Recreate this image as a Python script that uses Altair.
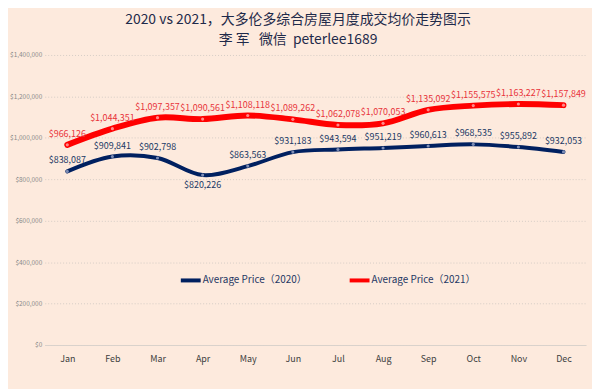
import altair as alt
import pandas as pd

months = ["Jan", "Feb", "Mar", "Apr", "May", "Jun", "Jul", "Aug", "Sep", "Oct", "Nov", "Dec"]
price_2020 = [838087, 909841, 902798, 820226, 863563, 931183, 943594, 951219, 960613, 968535, 955892, 932053]
price_2021 = [966126, 1044351, 1097357, 1090561, 1108118, 1089262, 1062078, 1070053, 1135092, 1155575, 1163227, 1157849]
series_names = ["Average Price（2020）", "Average Price（2021）"]
y_ticks = [0, 200000, 400000, 600000, 800000, 1000000, 1200000, 1400000]
title_lines = ["2020 vs 2021，大多伦多综合房屋月度成交均价走势图示", "李\u00a0军\u00a0\u00a0\u00a0微信\u00a0\u00a0peterlee1689"]

rows = []
for m, v in zip(months, price_2020):
    rows.append({"month": m, "price": v, "series": series_names[0]})
for m, v in zip(months, price_2021):
    rows.append({"month": m, "price": v, "series": series_names[1]})
df = pd.DataFrame(rows)

FONT = "Noto Sans CJK SC"
NAVY = "#002060"
RED = "#FF0000"

x_enc = alt.X("month:N", sort=months, scale=alt.Scale(type="point", padding=0.5),
              axis=alt.Axis(title=None, labelAngle=0, labelFontSize=9, labelColor="#404040",
                            labelFont=FONT, ticks=False, labelPadding=10, domain=True,
                            domainColor="#d9d2cc", grid=False))
y_enc = alt.Y("price:Q", scale=alt.Scale(domain=[0, 1400000], nice=False),
              axis=alt.Axis(title=None, values=y_ticks, format="$,.0f", labelFontSize=6.5,
                            labelColor="#8a8a8a", labelFont=FONT, ticks=False, labelPadding=3,
                            domain=False, grid=True, gridColor="#d6cdc6", gridDash=[1, 2],
                            gridWidth=1))
color_enc = alt.Color("series:N", scale=alt.Scale(domain=series_names, range=[NAVY, RED]),
                      legend=alt.Legend(title=None, orient="none", direction="horizontal",
                                        legendX=135, legendY=215, symbolType="stroke",
                                        symbolSize=400, symbolStrokeWidth=4,
                                        labelFont=FONT, labelFontSize=10, labelColor="#1f3864",
                                        labelOffset=0, columnPadding=35, labelLimit=200))

base = alt.Chart(df)

line20 = base.transform_filter(alt.datum.series == series_names[0]).mark_line(
    interpolate="catmull-rom", strokeCap="round", strokeWidth=4).encode(
    x=x_enc, y=y_enc, color=color_enc)
line21 = base.transform_filter(alt.datum.series == series_names[1]).mark_line(
    interpolate="catmull-rom", strokeCap="round", strokeWidth=6).encode(
    x=alt.X("month:N", sort=months), y="price:Q", color=color_enc)

pts20 = base.transform_filter(alt.datum.series == series_names[0]).mark_circle(
    size=10, color="#7d8db5", opacity=1).encode(x=alt.X("month:N", sort=months), y="price:Q")
pts21 = base.transform_filter(alt.datum.series == series_names[1]).mark_circle(
    size=10, color="#ff8a8a", opacity=1).encode(x=alt.X("month:N", sort=months), y="price:Q")

lab21 = base.transform_filter(alt.datum.series == series_names[1]).mark_text(
    dy=-11, fontSize=9, font=FONT, color="#e8333a").encode(
    x=alt.X("month:N", sort=months), y="price:Q", text=alt.Text("price:Q", format="$,.0f"))
lab20 = base.transform_filter(
    (alt.datum.series == series_names[0]) & (alt.datum.month != "Apr")).mark_text(
    dy=-11, fontSize=9, font=FONT, color="#203864").encode(
    x=alt.X("month:N", sort=months), y="price:Q", text=alt.Text("price:Q", format="$,.0f"))
lab20b = base.transform_filter(
    (alt.datum.series == series_names[0]) & (alt.datum.month == "Apr")).mark_text(
    dy=10, fontSize=9, font=FONT, color="#203864").encode(
    x=alt.X("month:N", sort=months), y="price:Q", text=alt.Text("price:Q", format="$,.0f"))

chart = alt.layer(line20, line21, pts20, pts21, lab21, lab20, lab20b).properties(
    width=545, height=292,
    autosize=alt.AutoSizeParams(type="none"),
    padding={"left": 37, "top": 46, "right": 6, "bottom": 43},
    background="#fdeadd",
    title=alt.TitleParams(text=title_lines, font=FONT, fontSize=14, fontWeight="normal",
                          color="#1f2a4a", anchor="middle", dx=-17.5, offset=5, lineHeight=20),
).configure_view(stroke=None)

chart.save("out.html", embed_options={"renderer": "svg", "actions": False})
